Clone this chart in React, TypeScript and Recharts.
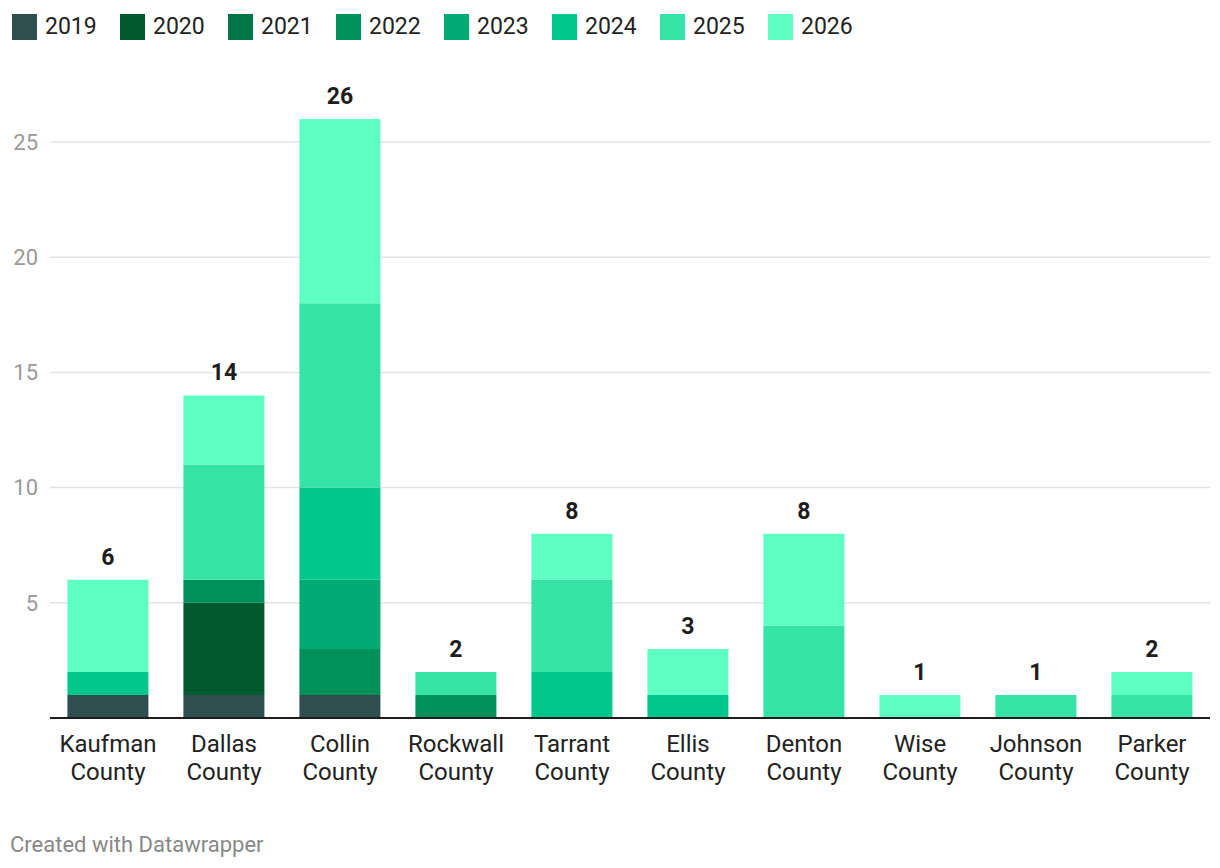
import { BarChart, Bar, XAxis, YAxis, CartesianGrid, LabelList } from 'recharts'

const counties = [
  'Kaufman County',
  'Dallas County',
  'Collin County',
  'Rockwall County',
  'Tarrant County',
  'Ellis County',
  'Denton County',
  'Wise County',
  'Johnson County',
  'Parker County',
]

const years = ['2019', '2020', '2021', '2022', '2023', '2024', '2025', '2026']
const colors = ['#2e4f4d', '#005a2e', '#007546', '#00915a', '#00aa73', '#00c88c', '#36e3a7', '#5dffc3']

const y2019 = [1, 1, 1, 0, 0, 0, 0, 0, 0, 0]
const y2020 = [0, 4, 0, 0, 0, 0, 0, 0, 0, 0]
const y2021 = [0, 0, 0, 0, 0, 0, 0, 0, 0, 0]
const y2022 = [0, 1, 2, 1, 0, 0, 0, 0, 0, 0]
const y2023 = [0, 0, 3, 0, 0, 0, 0, 0, 0, 0]
const y2024 = [1, 0, 4, 0, 2, 1, 0, 0, 0, 0]
const y2025 = [0, 5, 8, 1, 4, 0, 4, 0, 1, 1]
const y2026 = [4, 3, 8, 0, 2, 2, 4, 1, 0, 1]

const yTicks = [0, 5, 10, 15, 20, 25]
const gridValues = [5, 10, 15, 20, 25]

const series = [y2019, y2020, y2021, y2022, y2023, y2024, y2025, y2026]

// each row also carries the total under "lab<k>" for the topmost non-empty segment k,
// so the label is drawn on whichever segment actually ends the stack
const data = counties.map((name, i) => {
  const row: Record<string, number | string | null> = { name }
  let total = 0
  let top = 0
  years.forEach((yr, k) => {
    row[yr] = series[k][i]
    total += series[k][i]
    if (series[k][i] > 0) top = k
  })
  years.forEach((_, k) => {
    row[`lab${k}`] = k === top ? total : null
  })
  return row
})

const FONT = 'Roboto, "Noto Sans", sans-serif'

function CountyTick(props: any) {
  const { x, y, payload } = props
  const parts = String(payload.value).split(' ')
  return (
    <text x={x} y={y} textAnchor="middle" fill="#222" fontSize={24} fontFamily={FONT}>
      <tspan x={x} dy={26}>{parts[0]}</tspan>
      <tspan x={x} dy={28}>{parts[1]}</tspan>
    </text>
  )
}

function TotalLabel(props: any) {
  const { x, y, width, value } = props
  if (value === null || value === undefined || value === '') return null
  return (
    <text
      x={x + width / 2}
      y={y - 15}
      textAnchor="middle"
      fill="#1d1d1d"
      fontSize={23}
      fontWeight={700}
      fontFamily={FONT}
      stroke="#fff"
      strokeWidth={6}
      paintOrder="stroke"
    >
      {value}
    </text>
  )
}

export default function App() {
  return (
    <div
      style={{
        position: 'absolute',
        left: 0,
        top: 0,
        width: 1220,
        height: 868,
        background: '#fff',
        fontFamily: FONT,
      }}
    >
      <div style={{ position: 'absolute', left: 12, top: 14, display: 'flex' }}>
        {years.map((yr, k) => (
          <div key={yr} style={{ display: 'flex', alignItems: 'center', width: 108 }}>
            <div style={{ width: 25, height: 26, background: colors[k], marginRight: 8 }} />
            <span style={{ fontSize: 23, color: '#222', lineHeight: '26px' }}>{yr}</span>
          </div>
        ))}
      </div>

      <div style={{ position: 'absolute', left: 0, top: 0 }}>
        <BarChart
          width={1220}
          height={800}
          data={data}
          margin={{ top: 119, right: 10, left: 0, bottom: 12 }}
          barCategoryGap="15%"
        >
          <CartesianGrid vertical={false} stroke="#e3e3e3" strokeWidth={1.5} horizontalValues={gridValues} />
          <XAxis
            dataKey="name"
            tick={<CountyTick />}
            tickLine={false}
            axisLine={{ stroke: '#1d1d1d', strokeWidth: 2 }}
            interval={0}
            height={70}
          />
          <YAxis
            width={50}
            domain={[0, 26]}
            ticks={yTicks}
            tickFormatter={(v) => (v === 0 ? '' : String(v))}
            tick={{ fill: '#999', fontSize: 22, fontFamily: FONT }}
            tickLine={false}
            axisLine={false}
            tickMargin={12}
            tickSize={0}
          />
          {years.map((yr, k) => (
            <Bar key={yr} dataKey={yr} stackId="a" fill={colors[k]} isAnimationActive={false}>
              <LabelList dataKey={`lab${k}`} content={<TotalLabel />} />
            </Bar>
          ))}
        </BarChart>
      </div>

      <div
        style={{
          position: 'absolute',
          left: 10,
          top: 832,
          fontSize: 22,
          color: '#888',
        }}
      >
        Created with Datawrapper
      </div>
    </div>
  )
}
